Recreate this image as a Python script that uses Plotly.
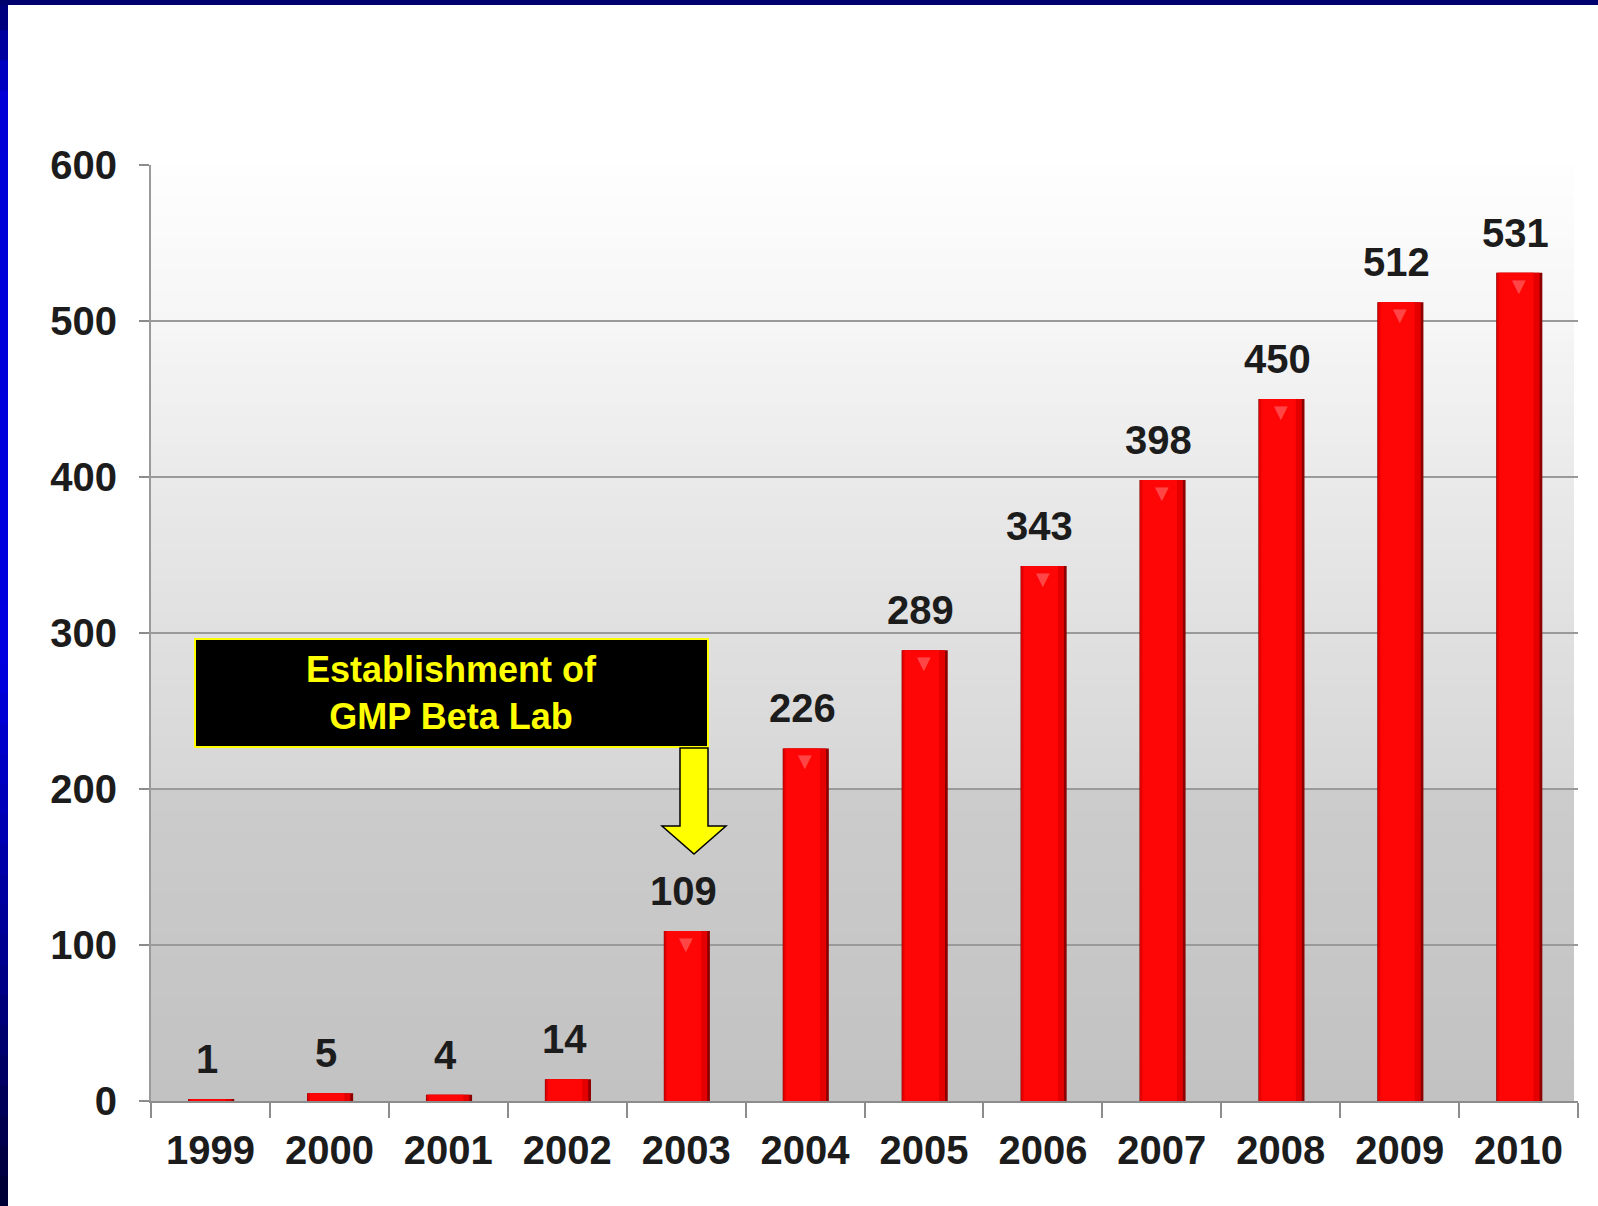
import plotly.graph_objects as go

# data
years = ['1999', '2000', '2001', '2002', '2003', '2004',
         '2005', '2006', '2007', '2008', '2009', '2010']
counts = [1, 5, 4, 14, 109, 226, 289, 343, 398, 450, 512, 531]
y_ticks = [0, 100, 200, 300, 400, 500, 600]
note_text = 'Establishment of<br>GMP Beta Lab'

W, H = 1598, 1206
L, R, T, B = 151, 20, 165, 105
PW, PH = W - L - R, H - T - B


def px(x):
    # page pixel -> paper x
    return (x - L) / PW


def py(y):
    # page pixel -> paper y
    return (H - B - y) / PH


fig = go.Figure()

# Bars built from a few overlaid layers to fake the shaded look
layers = [
    dict(offset=-0.188, width=0.388, color='#8c0000'),
    dict(offset=-0.183, width=0.36, color='#e40000'),
    dict(offset=-0.163, width=0.29, color='#ff0606'),
]
for lay in layers:
    fig.add_trace(go.Bar(x=years, y=counts, offset=lay['offset'], width=lay['width'],
                         marker=dict(color=lay['color'], line=dict(width=0)),
                         hoverinfo='skip', showlegend=False))

shapes = []

# Gray gradient of the plot area
def gray_at(f):
    if f < 1 / 3:
        stops = [(0, 194), (1 / 3, 204)]
    else:
        stops = [(1 / 3, 214), (0.5, 224), (2 / 3, 234), (5 / 6, 246), (1.0, 254)]
    for (f0, g0), (f1, g1) in zip(stops[:-1], stops[1:]):
        if f0 <= f <= f1:
            return g0 + (g1 - g0) * (f - f0) / (f1 - f0)
    return stops[-1][1]


n_bands = 90
for i in range(n_bands):
    f0, f1 = i / n_bands, (i + 1) / n_bands
    g = int(round(gray_at((f0 + f1) / 2)))
    shapes.append(dict(type='rect', xref='paper', yref='paper', x0=0, x1=px(1574),
                       y0=f0, y1=f1 + 0.002, layer='below', line=dict(width=0),
                       fillcolor='rgb(%d,%d,%d)' % (g, g, g)))

# Dark blue slide frame (left and top)
frame_stops = [(0, (0, 0, 110)), (0.08, (0, 0, 215)), (0.55, (0, 0, 225)),
               (0.8, (0, 0, 140)), (1.0, (0, 0, 50))]
n_fr = 40
for i in range(n_fr):
    f = (i + 0.5) / n_fr
    for (f0, c0), (f1, c1) in zip(frame_stops[:-1], frame_stops[1:]):
        if f0 <= f <= f1:
            t = (f - f0) / (f1 - f0)
            c = tuple(int(a + (b - a) * t) for a, b in zip(c0, c1))
            break
    y_top = H * i / n_fr
    y_bot = H * (i + 1) / n_fr + 1
    shapes.append(dict(type='rect', xref='paper', yref='paper', x0=px(0), x1=px(8),
                       y0=py(y_bot), y1=py(y_top), line=dict(width=0),
                       fillcolor='rgb(%d,%d,%d)' % c))
shapes.append(dict(type='rect', xref='paper', yref='paper', x0=px(0), x1=px(W),
                   y0=py(5), y1=py(0), line=dict(width=0), fillcolor='#00006e'))

# Call-out box and block arrow
shapes.append(dict(type='rect', xref='paper', yref='paper', x0=px(195), x1=px(708),
                   y0=py(747), y1=py(639), fillcolor='black',
                   line=dict(color='#ffff00', width=2)))
arrow_pts = [(680, 748), (708, 748), (708, 826), (726, 826), (694, 854), (662, 826), (680, 826)]
path = 'M ' + ' L '.join('%.5f,%.5f' % (px(x), py(y)) for x, y in arrow_pts) + ' Z'
shapes.append(dict(type='path', xref='paper', yref='paper', path=path,
                   fillcolor='#ffff00', line=dict(color='black', width=1.5)))

annotations = []
# value labels above bars (x given as category index)
for i, c in enumerate(counts):
    annotations.append(dict(x=i, y=c, xref='x', yref='y', text=str(c), showarrow=False,
                            yanchor='middle', yshift=40, xshift=-3,
                            font=dict(family='Liberation Sans, Arial', size=40,
                                      color='#1c1c1c', weight='bold')))
    if c >= 100:
        annotations.append(dict(x=i, y=c, xref='x', yref='y', text='▼', showarrow=False,
                                yanchor='top', yshift=0, xshift=0,
                                font=dict(family='DejaVu Sans', size=18,
                                          color='rgba(255,150,150,0.45)')))

annotations.append(dict(x=px(451), y=py(693), xref='paper', yref='paper', text=note_text,
                        showarrow=False, xanchor='center', yanchor='middle',
                        font=dict(family='Liberation Sans, Arial', size=36,
                                  color='#ffff00', weight='bold')))

fig.update_layout(
    width=W, height=H,
    margin=dict(l=L, r=R, t=T, b=B),
    paper_bgcolor='white',
    plot_bgcolor='rgba(0,0,0,0)',
    barmode='overlay',
    shapes=shapes,
    annotations=annotations,
    showlegend=False,
)
fig.update_xaxes(type='category', categoryorder='array', categoryarray=years,
                 range=[-0.5, len(years) - 0.5], automargin=False, tickangle=0,
                 showgrid=False, showline=True, linecolor='#8c8c8c', linewidth=2,
                 ticks='outside', tickson='boundaries', ticklen=15, tickwidth=1.5, tickcolor='#8c8c8c',
                 ticklabelstandoff=13,
                 tickfont=dict(family='Liberation Sans, Arial', size=40, color='#1c1c1c', weight='bold'))
fig.update_yaxes(range=[0, 600], tickvals=y_ticks, automargin=False,
                 showgrid=True, gridcolor='#9a9a9a', gridwidth=2,
                 showline=True, linecolor='#9a9a9a', linewidth=2, zeroline=False,
                 ticks='outside', ticklen=10, tickwidth=1.5, tickcolor='#8c8c8c',
                 ticklabelstandoff=14,
                 tickfont=dict(family='Liberation Sans, Arial', size=40, color='#1c1c1c', weight='bold'))

# drop the default 8px body margin so the figure sits at the window's corner
fig.write_html('out.html', config={'displayModeBar': False},
               post_script="document.body.style.margin='0';")
